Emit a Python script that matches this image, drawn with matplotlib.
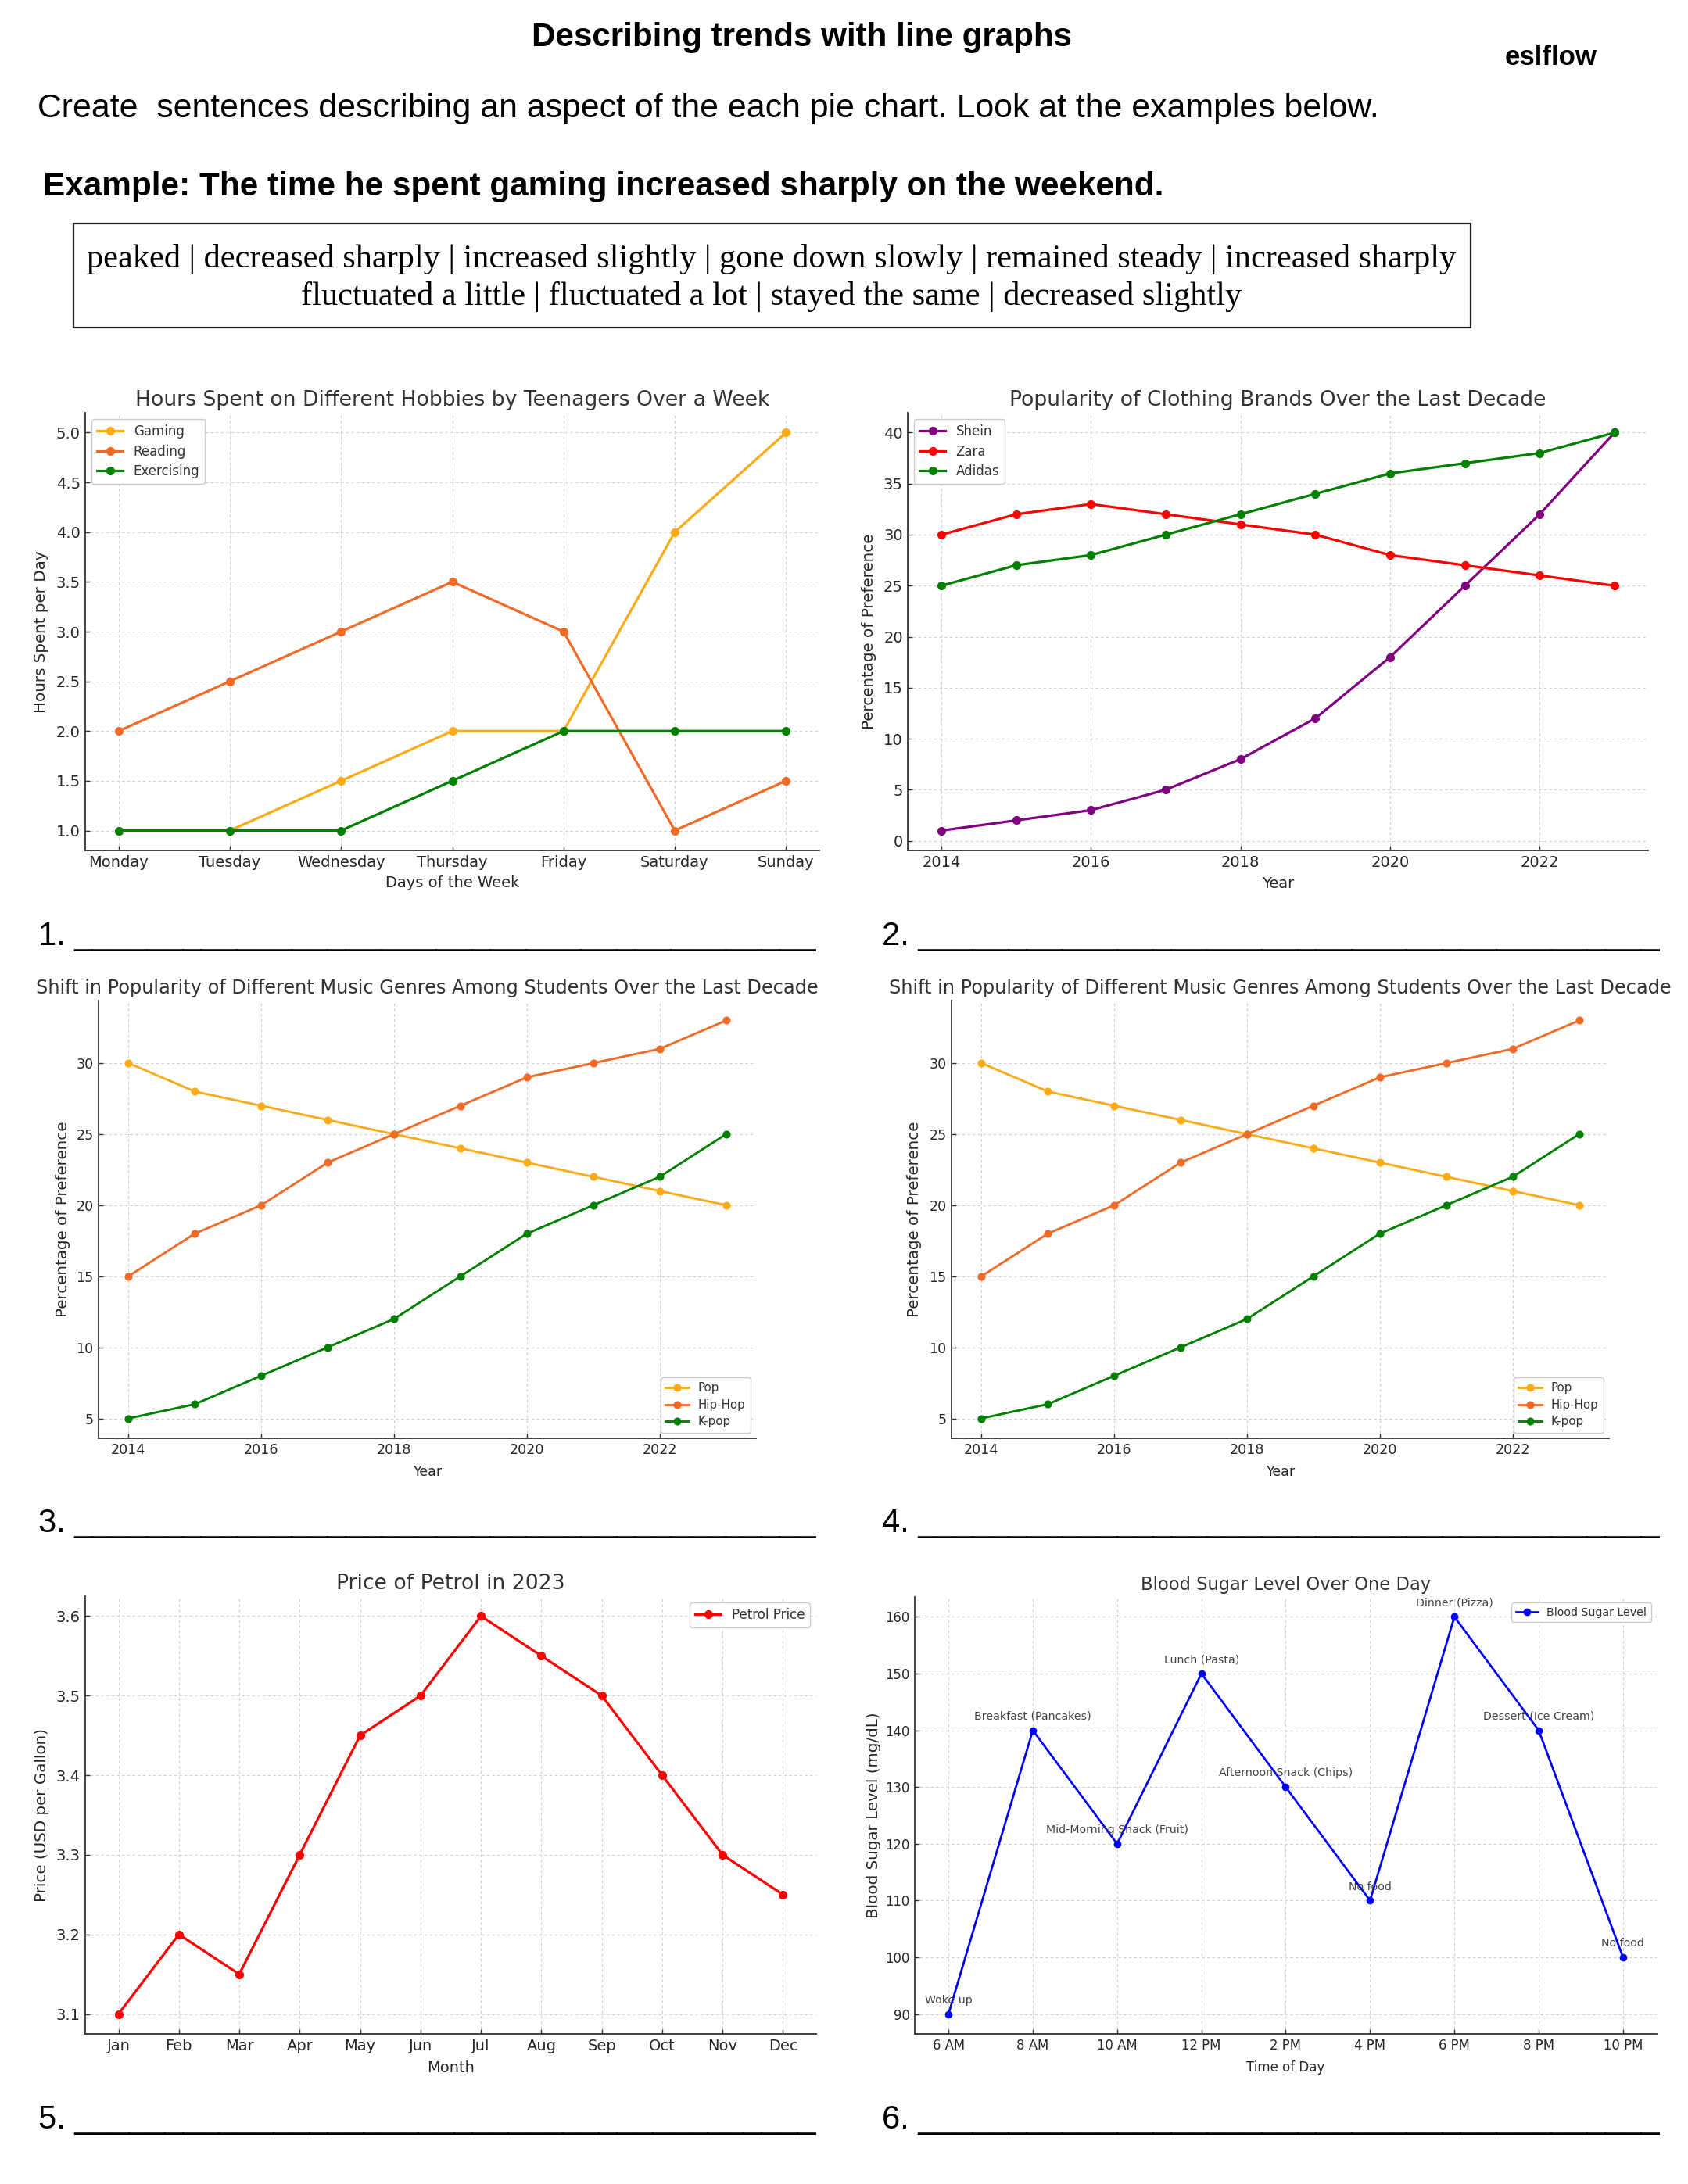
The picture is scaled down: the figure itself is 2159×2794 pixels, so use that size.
import matplotlib
matplotlib.use("Agg")
import matplotlib.pyplot as plt
from matplotlib.patches import Rectangle
from matplotlib.ticker import MultipleLocator

# ---- data ----
days = ["Monday", "Tuesday", "Wednesday", "Thursday", "Friday", "Saturday", "Sunday"]
gaming = [1, 1, 1.5, 2, 2, 4, 5]
reading = [2, 2.5, 3, 3.5, 3, 1, 1.5]
exercising = [1, 1, 1, 1.5, 2, 2, 2]

years = [2014, 2015, 2016, 2017, 2018, 2019, 2020, 2021, 2022, 2023]
shein = [1, 2, 3, 5, 8, 12, 18, 25, 32, 40]
zara = [30, 32, 33, 32, 31, 30, 28, 27, 26, 25]
adidas = [25, 27, 28, 30, 32, 34, 36, 37, 38, 40]

pop = [30, 28, 27, 26, 25, 24, 23, 22, 21, 20]
hiphop = [15, 18, 20, 23, 25, 27, 29, 30, 31, 33]
kpop = [5, 6, 8, 10, 12, 15, 18, 20, 22, 25]

months = ["Jan", "Feb", "Mar", "Apr", "May", "Jun", "Jul", "Aug", "Sep", "Oct", "Nov", "Dec"]
petrol = [3.1, 3.2, 3.15, 3.3, 3.45, 3.5, 3.6, 3.55, 3.5, 3.4, 3.3, 3.25]

times = ["6 AM", "8 AM", "10 AM", "12 PM", "2 PM", "4 PM", "6 PM", "8 PM", "10 PM"]
sugar = [90, 140, 120, 150, 130, 110, 160, 140, 100]
meals = ["Woke up", "Breakfast (Pancakes)", "Mid-Morning Snack (Fruit)", "Lunch (Pasta)",
         "Afternoon Snack (Chips)", "No food", "Dinner (Pizza)", "Dessert (Ice Cream)", "No food"]

word_bank = ["peaked | decreased sharply | increased slightly | gone down slowly | remained steady | increased sharply",
             "fluctuated a little | fluctuated a lot | stayed the same | decreased slightly"]

YELLOW = "#fbab18"
ORANGE = "#f06a28"
GREEN = "#008000"

W, H = 2159, 2794
fig = plt.figure(figsize=(W / 100, H / 100), dpi=100)


def fx(x):
    return x / W


def fy(y):
    return 1 - y / H


def px_axes(x0, y0, x1, y1):
    return fig.add_axes([fx(x0), fy(y1), (x1 - x0) / W, (y1 - y0) / H])


def style(ax, s, title, xlabel, ylabel, ylab_dx, xlab_dy):
    ax.grid(True, color="#d0d0d0", linestyle=(0, (3, 3)), linewidth=0.8)
    ax.set_axisbelow(True)
    for side in ("top", "right"):
        ax.spines[side].set_visible(False)
    for side in ("left", "bottom"):
        ax.spines[side].set_color("#333333")
        ax.spines[side].set_linewidth(1.3)
    ax.tick_params(direction="in", length=4, width=1, color="#333333",
                   labelcolor="#262626", labelsize=14 * s, pad=4.5)
    ax.set_title(title, fontsize=19.2 * s, color="#333333", pad=6.5)
    ax.set_xlabel(xlabel, fontsize=14 * s, color="#262626")
    ax.set_ylabel(ylabel, fontsize=14.3, color="#262626")
    bb = ax.get_position()
    w_px = bb.width * W
    h_px = bb.height * H
    ax.yaxis.set_label_coords(-ylab_dx / w_px, 0.5)
    ax.xaxis.set_label_coords(0.5, -xlab_dy / h_px)


def legend(ax, s, loc):
    leg = ax.legend(loc=loc, fontsize=12 * s, frameon=True, fancybox=True,
                    edgecolor="#cccccc", framealpha=1, labelspacing=0.45)
    for t in leg.get_texts():
        t.set_color("#333333")


# ---- header ----
fig.text(fx(1026), fy(59), "Describing trends with line graphs", ha="center", va="baseline",
         fontsize=30.3, fontweight="bold", family="Liberation Sans")
fig.text(fx(1925), fy(83), "eslflow", ha="left", va="baseline",
         fontsize=25, fontweight="bold", family="Liberation Sans")
fig.text(fx(48), fy(150), "Create  sentences describing an aspect of the each pie chart. Look at the examples below.",
         ha="left", va="baseline", fontsize=30.8, family="Liberation Sans")
fig.text(fx(55), fy(250), "Example: The time he spent gaming increased sharply on the weekend.",
         ha="left", va="baseline", fontsize=30.4, fontweight="bold", family="Liberation Sans")
fig.add_artist(Rectangle((fx(94), fy(419)), (1881 - 94) / W, (419 - 286) / H,
                         transform=fig.transFigure, fill=False, edgecolor="#222222", linewidth=1.6))
fig.text(fx(987), fy(342), word_bank[0], ha="center", va="baseline", fontsize=30.5, family="Liberation Serif")
fig.text(fx(987), fy(390), word_bank[1], ha="center", va="baseline", fontsize=30.5, family="Liberation Serif")

# ---- answer lines ----
blank = "_" * 41
for num, x, y in [("1.", 49, 1209), ("2.", 1128, 1209), ("3.", 49, 1960),
                  ("4.", 1128, 1960), ("5.", 49, 2723), ("6.", 1128, 2723)]:
    fig.text(fx(x), fy(y), num + " " + blank, ha="left", va="baseline", fontsize=30, family="Liberation Sans")

# ---- chart 1 ----
s = 1.0
ax1 = px_axes(109, 528, 1048, 1088)
ax1.plot(days, gaming, marker="o", color=YELLOW, lw=2.3, ms=7, label="Gaming")
ax1.plot(days, reading, marker="o", color=ORANGE, lw=2.3, ms=7, label="Reading")
ax1.plot(days, exercising, marker="o", color=GREEN, lw=2.3, ms=7, label="Exercising")
ax1.yaxis.set_major_locator(MultipleLocator(0.5))
style(ax1, s, "Hours Spent on Different Hobbies by Teenagers Over a Week",
      "Days of the Week", "Hours Spent per Day", 47, 32)
legend(ax1, s, "upper left")

# ---- chart 2 ----
ax2 = px_axes(1161, 528, 2108, 1088)
ax2.plot(years, shein, marker="o", color="#800080", lw=2.3, ms=7, label="Shein")
ax2.plot(years, zara, marker="o", color="#ff0000", lw=2.3, ms=7, label="Zara")
ax2.plot(years, adidas, marker="o", color=GREEN, lw=2.3, ms=7, label="Adidas")
ax2.yaxis.set_major_locator(MultipleLocator(5))
ax2.xaxis.set_major_locator(MultipleLocator(2))
style(ax2, s, "Popularity of Clothing Brands Over the Last Decade",
      "Year", "Percentage of Preference", 40, 33)
legend(ax2, s, "upper left")

# ---- charts 3 and 4 (same chart twice) ----
s = 0.9
for box, dx in [((126, 1280, 967, 1840), 36), ((1217, 1280, 2058, 1840), 38)]:
    ax = px_axes(*box)
    ax.plot(years, pop, marker="o", color=YELLOW, lw=2.3 * s, ms=7 * s, label="Pop")
    ax.plot(years, hiphop, marker="o", color=ORANGE, lw=2.3 * s, ms=7 * s, label="Hip-Hop")
    ax.plot(years, kpop, marker="o", color=GREEN, lw=2.3 * s, ms=7 * s, label="K-pop")
    ax.yaxis.set_major_locator(MultipleLocator(5))
    ax.xaxis.set_major_locator(MultipleLocator(2))
    style(ax, s, "Shift in Popularity of Different Music Genres Among Students Over the Last Decade",
          "Year", "Percentage of Preference", dx, 34)
    legend(ax, s, "lower right")

# ---- chart 5 ----
s = 1.0
ax5 = px_axes(109, 2042, 1044, 2602)
ax5.plot(months, petrol, marker="o", color="#ff0000", lw=2.3, ms=7, label="Petrol Price")
ax5.yaxis.set_major_locator(MultipleLocator(0.1))
style(ax5, s, "Price of Petrol in 2023", "Month", "Price (USD per Gallon)", 46, 34)
legend(ax5, s, "upper right")

# ---- chart 6 ----
s = 0.85
ax6 = px_axes(1170, 2043, 2119, 2602)
ax6.plot(times, sugar, marker="o", color="#0000ff", lw=2.3 * s, ms=7 * s, label="Blood Sugar Level")
for t, v, m in zip(times, sugar, meals):
    ax6.annotate(m, (t, v), textcoords="offset points", xytext=(0, 10), ha="center",
                 fontsize=10.2, color="#444444")
ax6.yaxis.set_major_locator(MultipleLocator(10))
style(ax6, s, "Blood Sugar Level Over One Day", "Time of Day", "Blood Sugar Level (mg/dL)", 43, 34)
ax6.set_xlabel("Time of Day", fontsize=12, color="#262626")
legend(ax6, s, "upper right")

fig.savefig("out.png", dpi=100, facecolor="white")
